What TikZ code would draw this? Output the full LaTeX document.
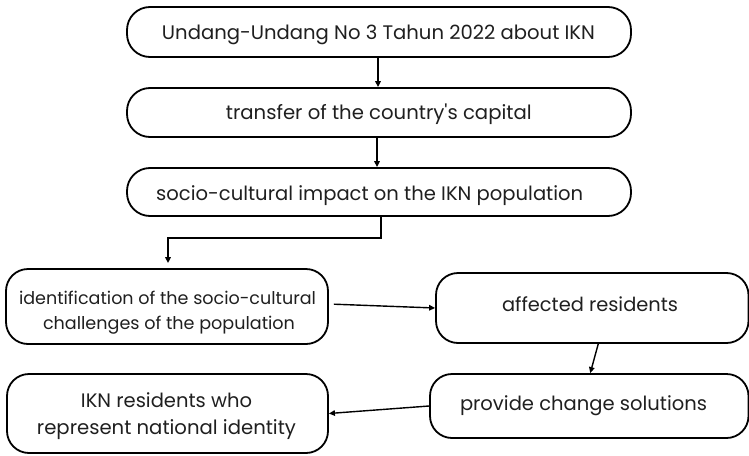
\documentclass[tikz,border=0pt]{standalone}
\usepackage{fontspec}
\setmainfont{Poppins}
\usepackage{graphicx}
\usetikzlibrary{arrows.meta}
% one line of text stretched to a given width
\newcommand{\fitline}[2]{\resizebox{#1}{!}{\fontsize{17}{20}\selectfont #2}}
\begin{document}
\begin{tikzpicture}[x=1pt,y=-1pt,
  box/.style={draw=black, line width=1.8pt, rounded corners=23pt, inner sep=0pt},
  lowbox/.style={box, rounded corners=22pt},
  txt/.style={anchor=base, inner sep=0pt, text=black!88},
  arr/.style={line width=1.4pt, -{Triangle[length=6pt,width=5.5pt]}}]
\useasboundingbox (0,0) rectangle (749,455);
% frames
\node[box, minimum width=504pt, minimum height=50pt] (law) at (379,32) {};
\node[box, minimum width=504pt, minimum height=49pt] (move) at (379,112.5) {};
\node[box, minimum width=504pt, minimum height=48pt] (impact) at (379,192) {};
\node[lowbox, minimum width=322pt, minimum height=75pt] (ident) at (167,306.5) {};
\node[lowbox, minimum width=312.5pt, minimum height=70pt] (affect) at (592.25,308) {};
\node[lowbox, minimum width=318.5pt, minimum height=64pt] (solve) at (589.25,406) {};
\node[lowbox, minimum width=321pt, minimum height=79pt] (goal) at (167.5,413.5) {};
% labels
\node[txt] (law-t) at (378.5,39.3) {\fitline{433pt}{Undang-Undang No 3 Tahun 2022 about IKN}};
\node[txt] (move-t) at (378.8,119.3) {\fitline{305.7pt}{transfer of the country\textquotesingle s capital}};
\node[txt] (impact-t) at (369.7,200) {\fitline{427pt}{socio-cultural impact on the IKN population}};
\node[txt] (ident-t1) at (167.5,304) {\fitline{297pt}{identification of the socio-cultural}};
\node[txt] (ident-t2) at (169,329) {\fitline{252pt}{challenges of the population}};
\node[txt] (affect-t) at (590,311) {\fitline{176pt}{affected residents}};
\node[txt] (solve-t) at (583.5,410) {\fitline{247pt}{provide change solutions}};
\node[txt] (goal-t1) at (166.5,407.7) {\fitline{171pt}{IKN residents who}};
\node[txt] (goal-t2) at (166.5,434.3) {\fitline{259pt}{represent national identity}};
% connectors
\draw[arr] ([xshift=-1pt]law.south) -- ([xshift=-1pt]move.north);
\draw[arr] ([xshift=-2pt]move.south) -- ([xshift=-2pt]impact.north);
\draw[arr, shorten >=5pt] ([xshift=2pt]impact.south) -- ++(0,21) -| ([xshift=1pt]ident.north);
\draw[arr, shorten <=5pt] ([yshift=2.5pt]ident.east) -- (affect.west);
\draw[arr] ([xshift=6pt]affect.south) -- ([xshift=1pt]solve.north);
\draw[arr] (solve.west) -- (goal.east);
\end{tikzpicture}
\end{document}
